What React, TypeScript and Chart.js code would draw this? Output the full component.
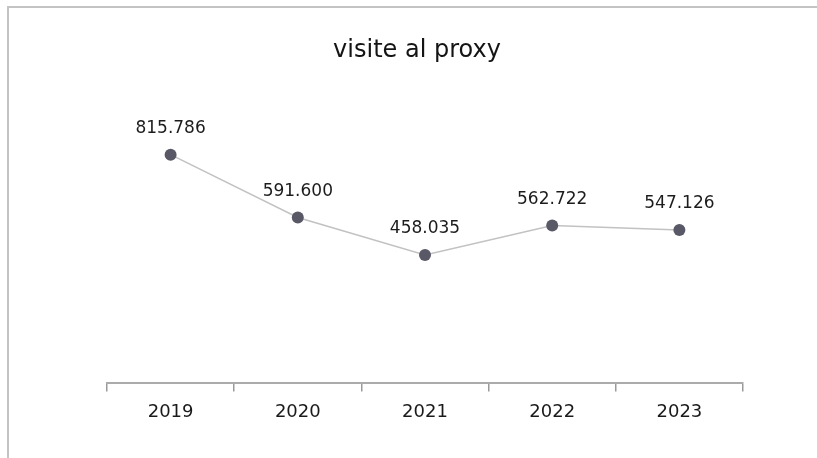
import React, { useEffect, useRef } from "react";
import { Chart, registerables } from "chart.js";

Chart.register(...registerables);

const categories = ["2019", "2020", "2021", "2022", "2023"];
const visits = [815786, 591600, 458035, 562722, 547126];
const titleText = "visite al proxy";
const yMin = 0;
const yMax = 1000000;

function formatIt(v: number): string {
  return String(Math.round(v)).replace(/\B(?=(\d{3})+(?!\d))/g, ".");
}

const dataLabels = {
  id: "dataLabels",
  afterDatasetsDraw(chart: any) {
    const ctx = chart.ctx;
    const meta = chart.getDatasetMeta(0);
    const ds = chart.data.datasets[0];
    ctx.save();
    ctx.font = "17px 'DejaVu Sans'";
    ctx.fillStyle = "#1c1c1c";
    ctx.textAlign = "center";
    ctx.textBaseline = "middle";
    meta.data.forEach((pt: any, i: number) => {
      ctx.fillText(formatIt(ds.data[i]), pt.x, pt.y - 26);
    });
    // title
    ctx.font = "24px 'DejaVu Sans'";
    ctx.fillStyle = "#141414";
    ctx.fillText(titleText, 417, 51);
    ctx.restore();
  },
};

export default function App() {
  const ref = useRef<HTMLCanvasElement>(null);
  useEffect(() => {
    if (!ref.current) return;
    const chart = new Chart(ref.current, {
      type: "line",
      data: {
        labels: categories,
        datasets: [
          {
            data: visits,
            borderColor: "#c2c2c2",
            borderWidth: 1.5,
            pointRadius: 6,
            pointHoverRadius: 6,
            pointBackgroundColor: "#585866",
            pointBorderColor: "#585866",
            pointBorderWidth: 0,
            tension: 0,
          },
        ],
      },
      options: {
        responsive: false,
        animation: false,
        layout: { padding: { left: 107, right: 74, top: 103, bottom: 25 } },
        plugins: {
          legend: { display: false },
          tooltip: { enabled: false },
          title: { display: false },
        },
        scales: {
          x: {
            type: "category",
            offset: true,
            grid: {
              display: true,
              drawOnChartArea: false,
              drawTicks: true,
              tickLength: 8,
              offset: true,
              color: "#9a9a9a",
              lineWidth: 1.5,
            },
            border: { display: true, color: "#ababab", width: 2 },
            ticks: {
              padding: 10,
              color: "#1a1a1a",
              font: { family: "'DejaVu Sans'", size: 18 },
            },
          },
          y: {
            display: false,
            min: yMin,
            max: yMax,
          },
        },
      },
      plugins: [dataLabels],
    });
    return () => chart.destroy();
  }, []);
  return (
    <div
      style={{
        position: "fixed",
        left: 0,
        top: 0,
        width: 817,
        height: 458,
        background: "#fff",
        overflow: "hidden",
      }}
    >
      <div
        style={{
          position: "absolute",
          left: 7,
          top: 6,
          width: 830,
          height: 470,
          borderLeft: "2px solid #c4c4c4",
          borderTop: "2px solid #c4c4c4",
        }}
      />
      <canvas
        ref={ref}
        width={817}
        height={458}
        style={{ position: "absolute", left: 0, top: 0 }}
      />
    </div>
  );
}
